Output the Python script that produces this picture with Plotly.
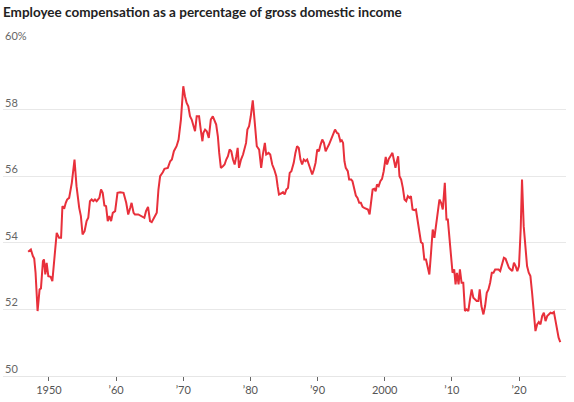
import plotly.graph_objects as go

# Quarter positions (decimal years) and employee compensation share of GDI (%)
years = [
    1946.9, 1947.3, 1947.6, 1947.8, 1948.0, 1948.3, 1948.6, 1948.8, 1949.1, 1949.25,
    1949.45, 1949.65, 1949.9, 1950.25, 1950.5, 1950.8, 1951.15, 1951.5, 1951.8, 1952.0,
    1952.3, 1952.5, 1952.7, 1953.0, 1953.4, 1953.8, 1954.1, 1954.5, 1954.75, 1955.0,
    1955.3, 1955.6, 1955.85, 1956.1, 1956.35, 1956.6, 1956.85, 1957.1, 1957.5, 1957.75,
    1958.0, 1958.25, 1958.5, 1958.75, 1959.0, 1959.25, 1959.5, 1959.85, 1960.2, 1960.6,
    1961.1, 1961.5, 1961.8, 1962.1, 1962.3, 1962.6, 1962.8, 1963.3, 1963.8, 1964.2,
    1964.45, 1964.75, 1965.05, 1965.3, 1965.65, 1966.05, 1966.3, 1966.55, 1966.95, 1967.2,
    1967.7, 1968.05, 1968.3, 1968.6, 1969.0, 1969.3, 1969.65, 1970.0, 1970.25, 1970.5,
    1970.75, 1971.0, 1971.25, 1971.5, 1971.75, 1972.0, 1972.35, 1972.6, 1972.85, 1973.0,
    1973.25, 1973.5, 1973.8, 1974.1, 1974.4,
    1974.9, 1975.15, 1975.35, 1975.6, 1975.9, 1976.15, 1976.4, 1976.65, 1976.9, 1977.15,
    1977.4, 1977.65, 1977.9, 1978.1, 1978.3, 1978.6, 1978.9, 1979.1, 1979.35, 1979.55,
    1979.8, 1980.05, 1980.35, 1980.65, 1980.95, 1981.3, 1981.6, 1981.85, 1982.15, 1982.35,
    1982.7, 1982.95, 1983.25, 1983.55, 1983.85, 1984.05, 1984.25, 1984.55, 1984.85, 1985.1,
    1985.35, 1985.6, 1985.85, 1986.1, 1986.45, 1986.7, 1986.95, 1987.2, 1987.45, 1987.7,
    1987.95, 1988.2, 1988.45, 1988.7, 1988.95, 1989.2, 1989.45, 1989.7, 1989.95, 1990.2,
    1990.45, 1990.7, 1990.95, 1991.2, 1991.45, 1991.7,
    1992.3, 1992.6, 1992.9, 1993.1, 1993.4, 1993.6, 1993.8, 1994.0, 1994.2, 1994.5,
    1994.7, 1995.0, 1995.2, 1995.45, 1995.7, 1995.95, 1996.2, 1996.45, 1996.7, 1996.95,
    1997.25, 1997.5, 1997.75, 1997.95, 1998.2, 1998.45, 1998.65, 1998.85, 1999.1, 1999.35,
    1999.6, 1999.85, 2000.15, 2000.35, 2000.6, 2000.85, 2001.15, 2001.35, 2001.6, 2001.75,
    2002.0, 2002.2, 2002.45, 2002.7, 2002.95, 2003.2, 2003.45, 2003.7, 2003.9, 2004.15,
    2004.4, 2004.65, 2004.9, 2005.15, 2005.4, 2005.65, 2005.9, 2006.15, 2006.4, 2006.65,
    2006.9, 2007.15, 2007.4, 2007.65, 2007.9, 2008.15, 2008.4, 2008.65, 2008.95, 2009.2,
    2009.4, 2009.6, 2009.85, 2010.1, 2010.35, 2010.55, 2010.75, 2011.0, 2011.2, 2011.45,
    2011.7, 2011.95, 2012.2, 2012.45, 2012.7, 2012.95, 2013.2, 2013.45, 2013.7, 2013.95,
    2014.15, 2014.4, 2014.7, 2014.95, 2015.2, 2015.45, 2015.7, 2015.95, 2016.2, 2016.45,
    2016.7, 2016.95, 2017.2, 2017.45, 2017.75, 2018.0, 2018.25, 2018.5, 2018.75, 2019.0,
    2019.25, 2019.5, 2019.75, 2020.0, 2020.25, 2020.45, 2020.7, 2020.95, 2021.2, 2021.45,
    2021.7, 2021.95, 2022.2, 2022.45, 2022.7, 2022.95, 2023.2, 2023.45, 2023.7, 2023.95,
    2024.2, 2024.45, 2024.7, 2024.95, 2025.2, 2025.4, 2025.65, 2025.9, 2026.15,
]

share = [
    53.73, 53.8, 53.6, 53.53, 53.1, 51.95, 52.6, 52.63, 53.45, 53.5,
    53.05, 53.4, 53.0, 52.98, 52.85, 53.5, 54.3, 54.15, 54.15, 55.1,
    55.05, 55.2, 55.3, 55.35, 55.8, 56.5, 55.7, 55.05, 54.8, 54.25,
    54.35, 54.65, 54.75, 55.25, 55.3, 55.25, 55.3, 55.25, 55.35, 55.6,
    55.5, 55.12, 55.1, 54.65, 54.8, 54.65, 54.9, 54.95, 55.5, 55.52,
    55.5, 55.2, 54.85, 55.05, 55.2, 54.9, 54.85, 54.85, 54.8, 54.75,
    54.95, 55.08, 54.65, 54.62, 54.75, 54.9, 55.6, 56.0, 56.12, 56.22,
    56.25, 56.45, 56.5, 56.75, 56.9, 57.1, 57.7, 58.7, 58.4, 58.2,
    58.1, 57.8, 57.7, 57.5, 57.35, 57.8, 57.8, 57.4, 57.05, 57.3,
    57.4, 57.35, 57.15, 57.7, 57.8,
    57.55, 57.2, 56.7, 56.25, 56.3, 56.35, 56.5, 56.6, 56.8, 56.75,
    56.5, 56.35, 56.6, 56.85, 56.25, 56.5, 56.65, 56.85, 57.0, 57.4,
    57.5, 57.8, 58.28, 57.6, 56.9, 56.8, 56.25, 56.65, 57.0, 56.65,
    56.7, 56.65, 56.35, 56.2, 56.0, 55.7, 55.45, 55.48, 55.52, 55.45,
    55.6, 55.65, 56.1, 56.15, 56.4, 56.7, 56.9, 56.85, 56.5, 56.35,
    56.5, 56.45, 56.5, 56.35, 56.2, 56.05, 56.2, 56.4, 56.8, 56.75,
    56.95, 57.1, 57.0, 56.75, 56.85, 56.95,
    57.25, 57.4, 57.3, 57.28, 57.05, 57.08, 57.0, 56.45, 56.25, 56.15,
    55.9, 55.9, 55.85, 55.6, 55.42, 55.35, 55.2, 55.2, 55.08, 55.05,
    55.02, 55.0, 54.85, 55.2, 55.6, 55.62, 55.55, 55.75, 55.7, 55.85,
    55.92, 56.15, 56.58, 56.35, 56.52, 56.6, 56.7, 56.5, 56.25, 56.4,
    56.6, 56.0, 55.9, 55.65, 55.3, 55.25, 55.4, 55.35, 55.4, 55.0,
    54.98, 55.0, 54.7, 54.35, 54.02, 53.98, 53.5, 53.5, 53.3, 53.05,
    53.7, 54.4, 54.15, 54.6, 55.0, 55.3, 55.2, 55.0, 55.8, 54.7,
    54.7, 54.3, 53.7, 53.1, 53.2, 52.75, 53.1, 52.75, 53.2, 52.8,
    52.8, 51.95, 52.0, 51.95, 52.3, 52.6, 52.35, 52.3, 52.25, 52.25,
    52.6, 52.1, 51.85, 52.1, 52.5, 52.6, 52.8, 53.1, 53.1, 53.2,
    53.2, 53.2, 53.15, 53.35, 53.55, 53.52, 53.4, 53.25, 53.2, 53.15,
    53.4, 53.3, 53.15, 53.3, 54.4, 55.9, 54.5, 54.0, 53.3, 53.1,
    53.0, 52.5, 51.9, 51.35, 51.55, 51.62, 51.55, 51.8, 51.9, 51.65,
    51.8, 51.85, 51.9, 51.88, 51.92, 51.7, 51.45, 51.15, 51.02,
]

x_tick_vals = [1950, 1960, 1970, 1980, 1990, 2000, 2010, 2020]
x_tick_text = ["1950", "\u201960", "\u201970", "\u201980", "\u201990", "2000", "\u201910", "\u201920"]
y_tick_vals = [50, 52, 54, 56, 58, 60]
y_tick_text = ["50", "52", "54", "56", "58", "60%"]

title_text = "Employee compensation as a percentage of gross domestic income"

FONT = "Lato, 'Open Sans', sans-serif"

fig = go.Figure()
fig.add_trace(go.Scatter(
    x=years, y=share, mode="lines",
    line=dict(color="#e8303b", width=2),
    hoverinfo="skip", showlegend=False,
))

annotations = [
    dict(xref="paper", yref="y", x=0, y=v, text=t, showarrow=False,
         xanchor="left", yanchor="bottom", yshift=-1,
         font=dict(family=FONT, size=11, color="#666666"))
    for v, t in zip(y_tick_vals, y_tick_text)
]

fig.update_layout(
    width=574, height=402,
    margin=dict(l=3, r=8, t=43, b=26),
    paper_bgcolor="white", plot_bgcolor="white",
    title=dict(text="<b>" + title_text + "</b>", xref="container", yref="container",
               x=3 / 574, xanchor="left", y=1 - 12.5 / 402, yanchor="middle",
               font=dict(family=FONT, size=13.5, color="#222222")),
    annotations=annotations,
    xaxis=dict(
        range=[1943.15, 2027.0], showgrid=False, zeroline=False,
        tickvals=x_tick_vals, ticktext=x_tick_text,
        ticks="outside", ticklen=4, tickwidth=1, tickcolor="#666666",
        showline=True, linecolor="#e6e6e6", linewidth=1,
        tickfont=dict(family=FONT, size=11, color="#555555"),
    ),
    yaxis=dict(
        range=[50, 60], tickvals=y_tick_vals, showticklabels=False,
        showgrid=True, gridcolor="#e8e8e8", gridwidth=1, zeroline=False,
    ),
)

fig.write_html("out.html")
